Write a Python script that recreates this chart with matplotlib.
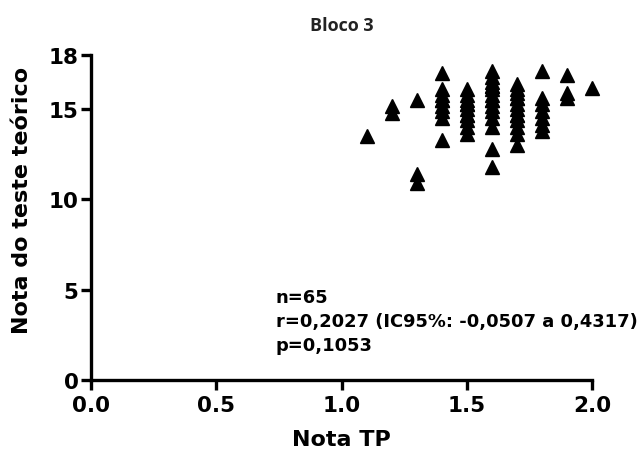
import matplotlib.pyplot as plt
import numpy as np

# Nota TP (x) e nota do teste teórico (y)
tp_values = [1.1,
             1.2, 1.2,
             1.3, 1.3, 1.3,
             1.4, 1.4, 1.4, 1.4, 1.4, 1.4, 1.4, 1.4, 1.4,
             1.5, 1.5, 1.5, 1.5, 1.5, 1.5, 1.5, 1.5, 1.5, 1.5, 1.5,
             1.6, 1.6, 1.6, 1.6, 1.6, 1.6, 1.6, 1.6, 1.6, 1.6, 1.6, 1.6, 1.6, 1.6, 1.6,
             1.7, 1.7, 1.7, 1.7, 1.7, 1.7, 1.7, 1.7, 1.7, 1.7, 1.7, 1.7, 1.7,
             1.8, 1.8, 1.8, 1.8, 1.8, 1.8, 1.8,
             1.9, 1.9, 1.9,
             2.0]
teorico_values = [13.5,
                  15.2, 14.8,
                  15.5, 11.4, 10.9,
                  17.0, 16.1, 15.8, 15.5, 15.5, 15.2, 14.9, 14.5, 13.3,
                  16.1, 15.8, 15.5, 15.3, 15.3, 15.0, 14.7, 14.7, 14.4, 14.0, 13.6,
                  17.1, 16.8, 16.5, 16.3, 16.3, 16.1, 15.8, 15.5, 15.5, 15.2, 14.9, 14.5, 14.0, 12.8, 11.8,
                  16.4, 16.1, 15.9, 15.6, 15.6, 15.3, 15.0, 14.7, 14.7, 14.4, 14.0, 13.6, 13.0,
                  17.1, 15.6, 15.3, 14.9, 14.5, 14.1, 13.8,
                  16.9, 15.9, 15.6,
                  16.2]

x_ticks = [0.0, 0.5, 1.0, 1.5, 2.0]
y_ticks = [0, 5, 10, 15, 18]
stats_lines = ["n=65", "r=0,2027 (IC95%: -0,0507 a 0,4317)", "p=0,1053"]

plt.rcParams['font.family'] = ['DejaVu Sans']

fig = plt.figure(figsize=(6.44, 4.52), dpi=100)
ax = fig.add_axes([0.1413, 0.157, 0.778, 0.719])

ax.plot(tp_values, teorico_values, linestyle='none', marker='^', color='black',
        markersize=10, clip_on=False)

ax.set_xlim(0, 2)
ax.set_ylim(0, 18)
ax.set_xticks(x_ticks)
ax.set_xticklabels([f"{t:.1f}" for t in x_ticks])
ax.set_yticks(y_ticks)
ax.set_yticklabels([str(t) for t in y_ticks])

for side in ['top', 'right']:
    ax.spines[side].set_visible(False)
for side in ['left', 'bottom']:
    ax.spines[side].set_linewidth(2.4)
    ax.spines[side].set_capstyle('projecting')

ax.tick_params(direction='out', length=7, width=2.4, labelsize=15.5)
ax.tick_params(axis='x', pad=4)
ax.tick_params(axis='y', pad=2)
for lbl in ax.get_xticklabels() + ax.get_yticklabels():
    lbl.set_fontweight('bold')

ax.set_xlabel("Nota TP", fontsize=16, fontweight='bold', labelpad=10)
ax.set_ylabel("Nota do teste teórico", fontsize=16, fontweight='bold')
ax.yaxis.set_label_coords(-0.117, 0.555)
ax.set_title("Bloco 3", fontsize=13, fontweight='bold', color='#222222',
             family=['Open Sans', 'DejaVu Sans'], pad=18)

for i, line in enumerate(stats_lines):
    ax.text(0.369, 0.255 - i * 0.074, line, transform=ax.transAxes,
            fontsize=12.9, fontweight='bold', va='center', ha='left')

fig.savefig("out.png", dpi=100)
